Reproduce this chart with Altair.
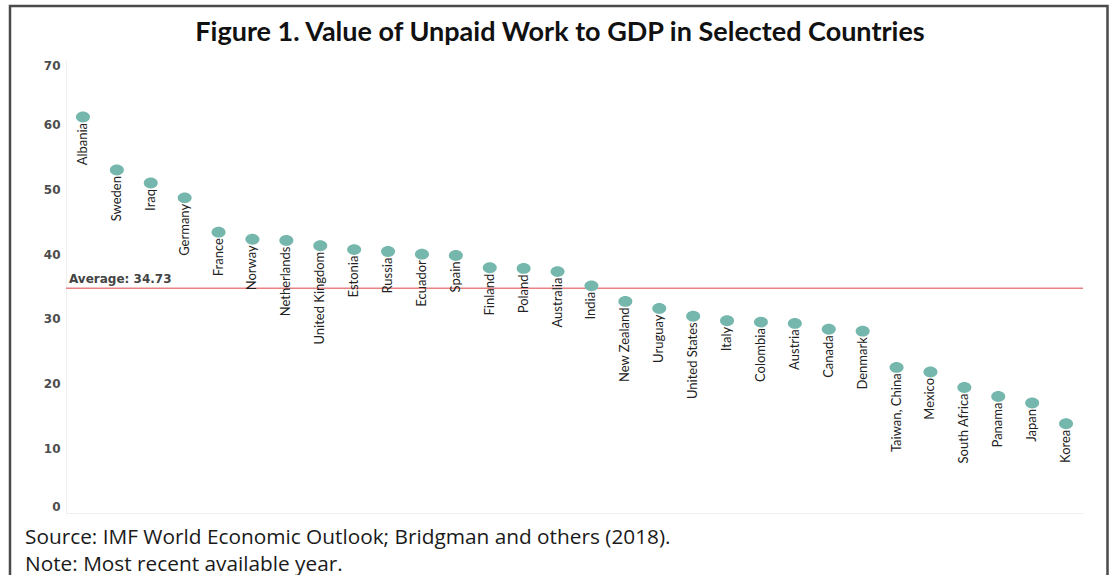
import altair as alt
import pandas as pd

# Value of unpaid work, percent of GDP, ordered from highest to lowest
countries = [
    "Albania", "Sweden", "Iraq", "Germany", "France", "Norway", "Netherlands",
    "United Kingdom", "Estonia", "Russia", "Ecuador", "Spain", "Finland", "Poland",
    "Australia", "India", "New Zealand", "Uruguay", "United States", "Italy",
    "Colombia", "Austria", "Canada", "Denmark", "Taiwan, China", "Mexico",
    "South Africa", "Panama", "Japan", "Korea",
]
values = [
    61.2, 53.0, 51.0, 48.7, 43.4, 42.3, 42.1,
    41.3, 40.7, 40.4, 40.0, 39.8, 37.9, 37.8,
    37.3, 35.1, 32.7, 31.6, 30.4, 29.7,
    29.5, 29.3, 28.4, 28.1, 22.5, 21.8,
    19.4, 18.0, 17.0, 13.8,
]
AVERAGE = 34.73
y_ticks = [0, 10, 20, 30, 40, 50, 60, 70]

title_text = "Figure 1. Value of Unpaid Work to GDP in Selected Countries"
note_lines = [
    "Source: IMF World Economic Outlook; Bridgman and others (2018).",
    "Note: Most recent available year.",
]

PLOT_W, PLOT_H = 1017, 453
DOT = "#76b7ad"

df = pd.DataFrame({"country": countries, "value": values})
avg_df = pd.DataFrame({"avg": [AVERAGE], "label": [f"Average: {AVERAGE:.2f}"]})
one = pd.DataFrame({"k": [0]})

x_enc = alt.X(
    "country:N",
    sort=countries,
    scale=alt.Scale(type="point", padding=0.5),
    axis=alt.Axis(labels=False, ticks=False, title=None, domainColor="#efefef"),
)
y_scale = alt.Scale(domain=[0, 70], nice=False, zero=True)
y_enc = alt.Y(
    "value:Q",
    scale=y_scale,
    axis=alt.Axis(
        values=y_ticks,
        title=None,
        grid=False,
        ticks=False,
        domainColor="#efefef",
        labelFont="DejaVu Sans",
        labelFontWeight="bold",
        labelFontSize=12,
        labelColor="#4d4d4d",
        labelPadding=6,
        labelFlush=True,
    ),
)

# thin frame around the whole figure
frame = alt.Chart(one).mark_rect(
    fill="transparent", stroke="#4a4a4a", strokeWidth=2.5
).encode(
    x=alt.value(-56), x2=alt.value(1041.5), y=alt.value(-54), y2=alt.value(560)
)

avg_rule = alt.Chart(avg_df).mark_rule(color="#e98283", strokeWidth=1.6).encode(
    y=alt.Y("avg:Q", scale=y_scale),
    x=alt.value(0),
    x2=alt.value(PLOT_W),
)

avg_text = alt.Chart(avg_df).mark_text(
    align="left", baseline="alphabetic", dy=-5,
    font="DejaVu Sans", fontWeight="bold", fontSize=12, color="#444444",
).encode(
    y=alt.Y("avg:Q", scale=y_scale),
    x=alt.value(3),
    text="label:N",
)

ellipse = "M-1,0 A1,0.78 0 1,0 1,0 A1,0.78 0 1,0 -1,0 Z"
points = alt.Chart(df).mark_point(
    shape=ellipse, filled=True, size=196, color=DOT, opacity=1
).encode(x=x_enc, y=y_enc)

labels = alt.Chart(df).mark_text(
    angle=270, align="right", baseline="middle", dx=-6,
    font="Lato", fontSize=13, color="#222222",
).encode(x=x_enc, y=y_enc, text="country:N")

title = alt.Chart(one).mark_text(
    align="center", baseline="alphabetic",
    font="Lato", fontWeight="bold", fontSize=27, color="#111111",
    text=title_text,
).encode(x=alt.value(494), y=alt.value(-19))

note_style = dict(
    align="left", baseline="alphabetic",
    font="Open Sans", fontSize=20.8, color="#1a1a1a",
)
source_note = alt.Chart(one).mark_text(text=note_lines[0], **note_style).encode(
    x=alt.value(-41), y=alt.value(484)
)
year_note = alt.Chart(one).mark_text(text=note_lines[1], **note_style).encode(
    x=alt.value(-41), y=alt.value(511)
)

chart = alt.layer(
    frame, avg_rule, points, labels, avg_text, title, source_note, year_note
).properties(
    width=PLOT_W,
    height=PLOT_H,
    background="white",
    autosize=alt.AutoSizeParams(type="none"),
    padding={"left": 66, "top": 60, "right": 31, "bottom": 62},
).configure_view(stroke="transparent", strokeWidth=0)

chart.save("out.html", embed_options={"renderer": "svg", "actions": False})
